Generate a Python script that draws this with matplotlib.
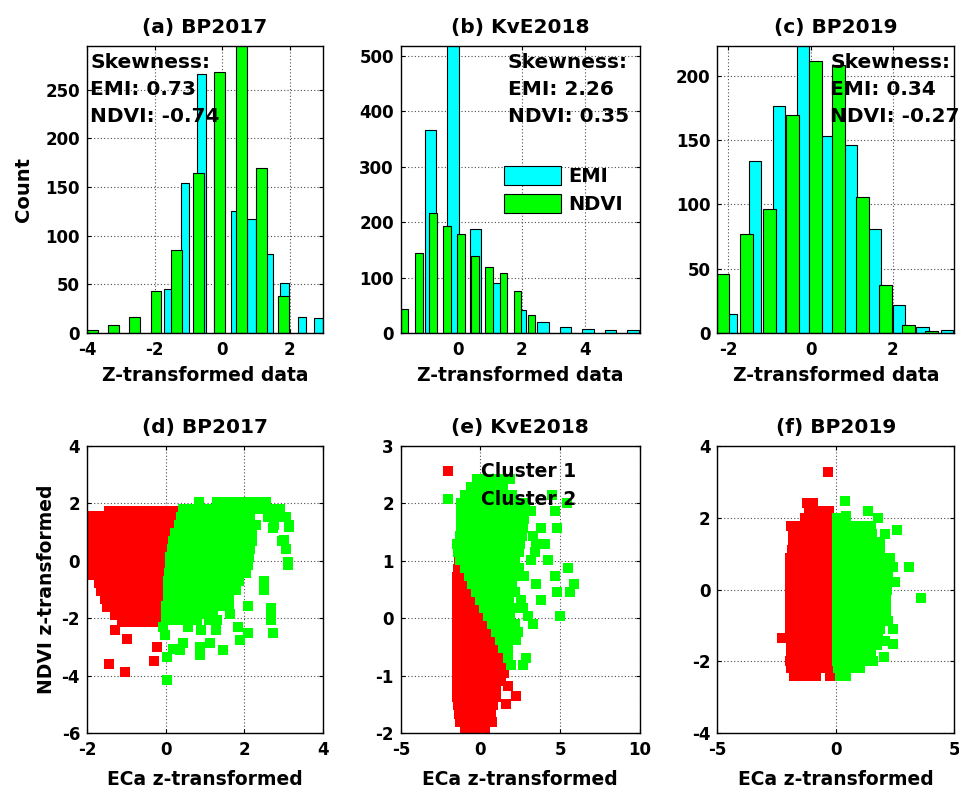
import numpy as np
import matplotlib
matplotlib.use("Agg")
from matplotlib import pyplot as plt
from matplotlib.patches import Patch
from matplotlib.lines import Line2D

plt.rcParams['font.family'] = ['DejaVu Sans']
plt.rcParams['font.weight'] = 'bold'
plt.rcParams['axes.titleweight'] = 'bold'
plt.rcParams['axes.labelweight'] = 'bold'
plt.rcParams['axes.unicode_minus'] = False

# ---- histogram data (bar centres and counts) ----
titles_top = ["(a) BP2017", "(b) KvE2018", "(c) BP2019"]
skew_emi = ["0.73", "2.26", "0.34"]
skew_ndvi = ["-0.74", "0.35", "-0.27"]

emi_a_x = [-1.61, -1.10, -0.61, -0.12, 0.38, 0.87, 1.39, 1.84, 2.36, 2.85]
emi_a_n = [45, 154, 266, 217, 125, 117, 81, 51, 16, 15]
ndvi_a_x = [-3.83, -3.22, -2.60, -1.96, -1.34, -0.69, -0.07, 0.56, 1.16, 1.81]
ndvi_a_n = [3.4, 8.6, 16, 43, 85, 164, 268, 310, 170, 38]

emi_b_x = [-0.87, -0.16, 0.55, 1.25, 1.97, 2.68, 3.39, 4.10, 4.81, 5.53]
emi_b_n = [367, 540, 187, 90, 42, 19, 11, 8, 6, 5]
ndvi_b_x = [-1.69, -1.24, -0.80, -0.36, 0.08, 0.54, 0.98, 1.43, 1.87, 2.32]
ndvi_b_n = [44, 145, 216, 194, 179, 139, 120, 109, 75, 32]

emi_c_x = [-1.93, -1.35, -0.77, -0.19, 0.39, 0.97, 1.56, 2.15, 2.73, 3.33]
emi_c_n = [15, 134, 176, 226, 153, 146, 81, 22, 5, 2]
ndvi_c_x = [-2.13, -1.56, -1.00, -0.44, 0.13, 0.69, 1.26, 1.82, 2.39, 2.95]
ndvi_c_n = [46, 77, 96, 169, 211, 208, 106, 37, 6.5, 1.3]

emi_width = [0.245, 0.37, 0.30]
ndvi_width = [0.32, 0.24, 0.31]
hist_xlim = [(-4.0, 2.98), (-1.81, 5.73), (-2.27, 3.5)]
hist_ylim = [295, 518, 223]
hist_xticks = [[-4, -2, 0, 2], [0, 2, 4], [-2, 0, 2]]
hist_yticks = [range(0, 251, 50), range(0, 501, 100), range(0, 201, 50)]

# ---- scatter data: rows of (NDVI z, list of ECa z) read from the clouds ----
titles_bot = ["(d) BP2017", "(e) KvE2018", "(f) BP2019"]

d_red_rows = [
    (1.75, [-1.45, -1.25, -1.05, -0.85, -0.65, -0.45, -0.25, -0.05, 0.15, 0.35]),
    (1.55, [-1.85, -1.65]),
    (1.47, [-1.85, -1.65, -1.45, -1.25, -1.05, -0.85, -0.65, -0.45, -0.25, -0.05, 0.15, 0.32]),
    (1.19, [-1.9, -1.7, -1.5, -1.3, -1.1, -0.9, -0.7, -0.5, -0.3, -0.1, 0.1, 0.26]),
    (0.91, [-1.95, -1.75, -1.55, -1.35, -1.15, -0.95, -0.75, -0.55, -0.35, -0.15, 0.05, 0.2]),
    (0.63, [-2.0, -1.8, -1.6, -1.4, -1.2, -1.0, -0.8, -0.6, -0.4, -0.2, 0.0, 0.14]),
    (0.35, [-1.95, -1.75, -1.55, -1.35, -1.15, -0.95, -0.75, -0.55, -0.35, -0.15, 0.08]),
    (0.07, [-1.9, -1.7, -1.5, -1.3, -1.1, -0.9, -0.7, -0.5, -0.3, -0.1, 0.03]),
    (-0.21, [-1.95, -1.75, -1.55, -1.35, -1.15, -0.95, -0.75, -0.55, -0.35, -0.15, 0.0]),
    (-0.49, [-1.9, -1.7, -1.5, -1.3, -1.1, -0.9, -0.7, -0.5, -0.3, -0.1]),
    (-0.77, [-1.7, -1.5, -1.3, -1.1, -0.9, -0.7, -0.5, -0.3, -0.08]),
    (-1.05, [-1.65, -1.45, -1.25, -1.05, -0.85, -0.65, -0.45, -0.25, -0.07]),
    (-1.33, [-1.55, -1.35, -1.15, -0.95, -0.75, -0.55, -0.35, -0.15]),
    (-1.61, [-1.5, -1.3, -1.1, -0.9, -0.7, -0.5, -0.3, -0.12]),
    (-1.89, [-1.3, -1.1, -0.9, -0.7, -0.5, -0.3, -0.12]),
    (-2.13, [-1.1, -0.9, -0.7, -0.5, -0.3, -0.15]),
]
d_red_out_x = [-1.28, -0.99, -0.23, -0.30, -1.45, -1.03]
d_red_out_y = [-2.42, -2.71, -3.0, -3.49, -3.58, -3.87]

d_green_rows = [
    (2.05, [0.85, 1.3, 1.5, 1.7, 1.9, 2.1, 2.3, 2.55]),
    (1.8, [0.45, 0.65, 0.85, 1.05, 1.25, 1.45, 1.65, 1.85, 2.05, 2.25, 2.45, 2.65, 2.9]),
    (1.52, [0.4, 0.6, 0.8, 1.0, 1.2, 1.4, 1.6, 1.8, 2.0, 2.15, 2.6, 2.85, 3.05]),
    (1.24, [0.33, 0.53, 0.73, 0.93, 1.13, 1.33, 1.53, 1.73, 1.93, 2.1, 2.3, 2.75, 3.15]),
    (0.96, [0.25, 0.45, 0.65, 0.85, 1.05, 1.25, 1.45, 1.65, 1.85, 2.05, 2.2]),
    (0.68, [0.2, 0.4, 0.6, 0.8, 1.0, 1.2, 1.4, 1.6, 1.8, 2.0, 2.2, 2.95]),
    (0.40, [0.15, 0.35, 0.55, 0.75, 0.95, 1.15, 1.35, 1.55, 1.75, 1.95, 2.15, 3.05]),
    (0.12, [0.12, 0.32, 0.52, 0.72, 0.92, 1.12, 1.32, 1.52, 1.72, 1.92, 2.12]),
    (-0.16, [0.1, 0.3, 0.5, 0.7, 0.9, 1.1, 1.3, 1.5, 1.7, 1.9, 2.1, 3.1]),
    (-0.44, [0.08, 0.28, 0.48, 0.68, 0.88, 1.08, 1.28, 1.48, 1.68, 1.88, 2.05]),
    (-0.72, [0.06, 0.26, 0.46, 0.66, 0.86, 1.06, 1.26, 1.46, 1.66, 1.86, 2.5]),
    (-1.0, [0.05, 0.25, 0.45, 0.65, 0.85, 1.05, 1.25, 1.45, 1.65, 1.8, 2.5]),
    (-1.28, [0.05, 0.25, 0.45, 0.65, 0.85, 1.05, 1.25, 1.45, 1.6]),
    (-1.56, [0.0, 0.2, 0.4, 0.6, 0.8, 1.0, 1.2, 1.4, 1.6, 2.09]),
    (-1.84, [0.0, 0.2, 0.4, 0.6, 0.8, 1.0, 1.2, 1.63, 2.68]),
    (-2.05, [0.0, 0.2, 0.4, 0.6, 0.8, 1.1, 1.3, 2.68]),
]
d_green_out_x = [0.57, 0.91, -0.02, -0.06, 1.84, 2.09, 1.88, 1.29, 1.46, 1.12, 0.87, 0.87,
                 0.45, 0.19, 0.03, 0.03, 0.36, 2.73, 2.68, 3.1, 3.02, 2.73, 3.15]
d_green_out_y = [-2.3, -2.42, -2.59, -2.3, -2.3, -2.53, -2.77, -2.42, -3.12, -2.88, -3.0, -3.29,
                 -2.88, -3.06, -3.35, -4.16, -3.12, -2.53, -1.66, -0.03, 0.72, 1.13, 1.19]

e_red_rows = [
    (1.0, [-1.35, -1.15]),
    (0.86, [-1.4, -1.0]),
    (0.72, [-1.45, -1.05, -0.75]),
    (0.58, [-1.45, -1.0, -0.5]),
    (0.44, [-1.45, -0.95, -0.45, -0.25]),
    (0.30, [-1.45, -0.95, -0.45, 0.0]),
    (0.16, [-1.45, -0.95, -0.45, 0.05, 0.25]),
    (0.02, [-1.45, -0.95, -0.45, 0.05, 0.5]),
    (-0.12, [-1.45, -0.95, -0.45, 0.05, 0.55, 0.75]),
    (-0.26, [-1.45, -0.95, -0.45, 0.05, 0.55, 0.98]),
    (-0.40, [-1.45, -0.95, -0.45, 0.05, 0.55, 1.05, 1.22]),
    (-0.54, [-1.45, -0.95, -0.45, 0.05, 0.55, 1.05, 1.45]),
    (-0.68, [-1.45, -0.95, -0.45, 0.05, 0.55, 1.05, 1.5]),
    (-0.82, [-1.45, -0.95, -0.45, 0.05, 0.55, 1.05, 1.5]),
    (-0.96, [-1.5, -1.0, -0.5, 0.0, 0.5, 1.0, 1.45]),
    (-1.10, [-1.5, -1.0, -0.5, 0.0, 0.5, 1.0, 1.3]),
    (-1.24, [-1.45, -0.95, -0.45, 0.05, 0.55, 1.0]),
    (-1.38, [-1.45, -0.95, -0.45, 0.05, 0.55, 0.95]),
    (-1.52, [-1.4, -0.9, -0.4, 0.1, 0.6, 0.8]),
    (-1.66, [-1.35, -0.85, -0.35, 0.15, 0.65]),
    (-1.80, [-1.3, -0.8, -0.3, 0.2, 0.7]),
    (-1.94, [-1.0, -0.5, -0.1, 0.3]),
]
e_red_out_x = [1.72, 2.25, 1.6, -0.5]
e_red_out_y = [-1.18, -1.36, -1.5, -1.99]

e_green_rows = [
    (2.42, [-0.2, 0.3, 0.8, 1.3, 1.86]),
    (2.28, [-0.6, -0.1, 0.4, 0.9, 1.4]),
    (2.14, [-1.0, -0.5, 0.0, 0.5, 1.0, 1.5, 2.0, 4.47]),
    (2.0, [-1.2, -0.7, -0.2, 0.3, 0.8, 1.3, 1.8, 2.3, 2.8, 5.42]),
    (1.86, [-1.25, -0.75, -0.25, 0.25, 0.75, 1.25, 1.75, 2.25, 2.75, 3.2, 4.68]),
    (1.72, [-1.25, -0.75, -0.25, 0.25, 0.75, 1.25, 1.75, 2.25, 2.75]),
    (1.58, [-1.25, -0.75, -0.25, 0.25, 0.75, 1.25, 1.75, 2.25, 2.7, 3.83, 4.79]),
    (1.44, [-1.3, -0.8, -0.3, 0.2, 0.7, 1.2, 1.7, 2.2, 2.6, 3.3]),
    (1.30, [-1.45, -0.95, -0.45, 0.05, 0.55, 1.05, 1.55, 2.05, 2.5, 3.5, 4.05]),
    (1.16, [-1.4, -0.9, -0.4, 0.1, 0.6, 1.1, 1.6, 2.1, 2.45, 3.41]),
    (1.02, [-1.3, -0.8, -0.3, 0.2, 0.7, 1.2, 1.7, 2.2, 3.2, 4.26]),
    (0.88, [-1.0, -0.5, 0.0, 0.5, 1.0, 1.5, 2.0, 2.4, 5.53]),
    (0.74, [-0.75, -0.25, 0.25, 0.75, 1.25, 1.75, 2.2, 2.75, 4.68]),
    (0.60, [-0.5, 0.0, 0.5, 1.0, 1.5, 2.0, 3.5, 5.85]),
    (0.46, [-0.25, 0.25, 0.75, 1.25, 1.75, 2.2, 4.79, 5.6]),
    (0.32, [0.0, 0.45, 0.9, 1.35, 1.8, 2.56, 3.83]),
    (0.18, [0.25, 0.7, 1.15, 1.6, 2.05, 2.67]),
    (0.04, [0.5, 0.95, 1.4, 1.85, 3.0, 5.0]),
    (-0.10, [0.75, 1.2, 1.65, 2.14, 3.3]),
    (-0.24, [1.0, 1.4, 1.75, 2.35]),
    (-0.38, [1.2, 1.6, 2.25]),
    (-0.52, [1.4, 1.72]),
    (-0.70, [1.72, 2.88]),
    (-0.82, [1.93, 2.67]),
]

f_red_rows = [
    (2.42, [-1.2, -0.95]),
    (2.2, [-1.15, -0.85, -0.55, -0.3]),
    (1.98, [-1.3, -1.0, -0.7, -0.4, -0.2]),
    (1.76, [-1.9, -1.6, -1.3, -1.0, -0.7, -0.4, -0.15]),
    (1.54, [-1.8, -1.5, -1.2, -0.9, -0.6, -0.3, -0.12]),
    (1.32, [-1.8, -1.5, -1.2, -0.9, -0.6, -0.3, -0.12]),
    (1.10, [-1.85, -1.55, -1.25, -0.95, -0.65, -0.35, -0.12]),
    (0.88, [-1.95, -1.63, -1.31, -0.99, -0.67, -0.35, -0.12]),
    (0.66, [-1.95, -1.63, -1.31, -0.99, -0.67, -0.35, -0.12]),
    (0.44, [-1.95, -1.63, -1.31, -0.99, -0.67, -0.35, -0.12]),
    (0.22, [-1.95, -1.63, -1.31, -0.99, -0.67, -0.35, -0.12]),
    (0.0, [-1.95, -1.63, -1.31, -0.99, -0.67, -0.35, -0.12]),
    (-0.22, [-1.95, -1.63, -1.31, -0.99, -0.67, -0.35, -0.12]),
    (-0.44, [-1.95, -1.63, -1.31, -0.99, -0.67, -0.35, -0.12]),
    (-0.66, [-1.95, -1.63, -1.31, -0.99, -0.67, -0.35, -0.12]),
    (-0.88, [-1.95, -1.63, -1.31, -0.99, -0.67, -0.35, -0.12]),
    (-1.10, [-1.95, -1.63, -1.31, -0.99, -0.67, -0.35, -0.12]),
    (-1.32, [-1.9, -1.6, -1.3, -0.99, -0.67, -0.35, -0.12]),
    (-1.54, [-1.87, -1.55, -1.25, -0.95, -0.67, -0.35, -0.12]),
    (-1.76, [-1.87, -1.55, -1.25, -0.95, -0.67, -0.35, -0.12]),
    (-1.98, [-1.95, -1.63, -1.31, -0.99, -0.67, -0.35, -0.12]),
    (-2.2, [-1.9, -1.6, -1.3, -1.0, -0.7, -0.3, -0.15]),
    (-2.4, [-1.75, -1.45, -1.15, -0.85, -0.25]),
]
f_red_out_x = [-0.32, -2.29]
f_red_out_y = [3.27, -1.35]

f_green_rows = [
    (1.98, [0.05, 0.35, 1.78]),
    (1.76, [0.05, 0.35, 0.65, 0.95, 1.25, 1.5]),
    (1.54, [0.05, 0.35, 0.65, 0.95, 1.25, 1.55, 2.06]),
    (1.32, [0.05, 0.35, 0.65, 0.95, 1.25, 1.55, 1.85]),
    (1.10, [0.05, 0.35, 0.65, 0.95, 1.25, 1.55, 1.85]),
    (0.88, [0.05, 0.35, 0.65, 0.95, 1.25, 1.55, 1.85, 2.27]),
    (0.66, [0.05, 0.35, 0.65, 0.95, 1.25, 1.55, 1.85, 2.2]),
    (0.44, [0.05, 0.35, 0.65, 0.95, 1.25, 1.55, 1.85, 2.2]),
    (0.22, [0.05, 0.35, 0.65, 0.95, 1.25, 1.55, 1.85, 2.2, 2.48]),
    (0.0, [0.05, 0.35, 0.65, 0.95, 1.25, 1.55, 1.85, 2.15]),
    (-0.22, [0.05, 0.35, 0.65, 0.95, 1.25, 1.55, 1.85, 2.1]),
    (-0.44, [0.05, 0.35, 0.65, 0.95, 1.25, 1.55, 1.85, 2.1]),
    (-0.66, [0.05, 0.35, 0.65, 0.95, 1.25, 1.55, 1.85, 2.1]),
    (-0.88, [0.05, 0.35, 0.65, 0.95, 1.25, 1.55, 1.85, 2.2]),
    (-1.10, [0.05, 0.35, 0.65, 0.95, 1.25, 1.55, 1.85, 2.41]),
    (-1.32, [0.05, 0.35, 0.65, 0.95, 1.25, 1.55, 1.8]),
    (-1.54, [0.05, 0.35, 0.65, 0.95, 1.25, 1.55, 1.75]),
    (-1.76, [0.05, 0.35, 0.65, 0.95, 1.25, 1.5]),
    (-1.98, [0.05, 0.35, 0.65, 0.95, 1.25, 1.57]),
    (-2.2, [0.1, 0.4, 0.7, 1.01]),
    (-2.42, [0.17, 0.45]),
]
f_green_out_x = [0.41, 0.45, 1.36, 2.58, 3.11, 2.41, 3.6, 2.41, 2.06, 2.02]
f_green_out_y = [2.47, 2.05, 2.2, 1.66, 0.63, 0.63, -0.25, -1.53, -1.44, -1.88]

scat_xlim = [(-2, 4), (-5, 10), (-5, 5)]
scat_ylim = [(-6, 4), (-2, 3), (-4, 4)]
scat_xticks = [[-2, 0, 2, 4], [-5, 0, 5, 10], [-5, 0, 5]]
scat_yticks = [range(-6, 5, 2), range(-2, 4), range(-4, 5, 2)]


def expand(rows, out_x=(), out_y=()):
    xs, ys = [], []
    for y, row in rows:
        xs += row
        ys += [y] * len(row)
    return np.array(xs + list(out_x)), np.array(ys + list(out_y))


def style_axes(ax):
    ax.grid(True, color='0.3', linestyle=(0, (1, 2)), linewidth=0.8)
    ax.set_axisbelow(True)
    ax.tick_params(direction='in', length=3, top=True, right=True, labelsize=12, pad=5)
    ax.tick_params(axis='x', pad=6)
    for s in ax.spines.values():
        s.set_linewidth(1.0)


fig = plt.figure(figsize=(9.59, 7.94), dpi=100)
lefts = [0.0907, 0.418, 0.748]
widths = [0.246, 0.249, 0.247]

emi_x = [emi_a_x, emi_b_x, emi_c_x]
emi_n = [emi_a_n, emi_b_n, emi_c_n]
ndvi_x = [ndvi_a_x, ndvi_b_x, ndvi_c_x]
ndvi_n = [ndvi_a_n, ndvi_b_n, ndvi_c_n]
skew_x = [0.013, 0.448, 0.477]

for i in range(3):
    ax = fig.add_axes([lefts[i], 0.5806, widths[i], 0.3615])
    ax.bar(emi_x[i], emi_n[i], width=emi_width[i], color='#00ffff', edgecolor='k', linewidth=0.8)
    ax.bar(ndvi_x[i], ndvi_n[i], width=ndvi_width[i], color='#00ff00', edgecolor='k', linewidth=0.8)
    ax.set_xlim(hist_xlim[i])
    ax.set_ylim(0, hist_ylim[i])
    ax.set_xticks(hist_xticks[i])
    ax.set_yticks(list(hist_yticks[i]))
    style_axes(ax)
    ax.set_title(titles_top[i], fontsize=14.5, pad=9)
    ax.set_xlabel("Z-transformed data", fontsize=13.5, labelpad=5)
    if i == 0:
        ax.set_ylabel("Count", fontsize=14, labelpad=9)
    lines = ["Skewness:", "EMI: " + skew_emi[i], "NDVI: " + skew_ndvi[i]]
    for k, t in enumerate(lines):
        ax.text(skew_x[i], [0.944, 0.847, 0.753][k], t, transform=ax.transAxes,
                fontsize=14.5, va='center', ha='left')
    if i == 1:
        handles = [Patch(facecolor='#00ffff', edgecolor='k', linewidth=0.8),
                   Patch(facecolor='#00ff00', edgecolor='k', linewidth=0.8)]
        ax.legend(handles, ["EMI", "NDVI"], loc='upper left', bbox_to_anchor=(0.431, 0.582),
                  frameon=False, fontsize=14, handlelength=2.93, handleheight=1.13,
                  labelspacing=0.41, handletextpad=0.36, borderpad=0, borderaxespad=0)

red_sets = [expand(d_red_rows, d_red_out_x, d_red_out_y),
            expand(e_red_rows, e_red_out_x, e_red_out_y),
            expand(f_red_rows, f_red_out_x, f_red_out_y)]
green_sets = [expand(d_green_rows, d_green_out_x, d_green_out_y),
              expand(e_green_rows),
              expand(f_green_rows, f_green_out_x, f_green_out_y)]

for i in range(3):
    ax = fig.add_axes([lefts[i], 0.0768, widths[i], 0.3615])
    rx, ry = red_sets[i]
    gx, gy = green_sets[i]
    ax.plot(rx, ry, 's', color='#ff0000', markersize=6.6, markeredgewidth=0, label='Cluster 1')
    ax.plot(gx, gy, 's', color='#00ff00', markersize=6.6, markeredgewidth=0, label='Cluster 2')
    ax.set_xlim(scat_xlim[i])
    ax.set_ylim(scat_ylim[i])
    ax.set_xticks(scat_xticks[i])
    ax.set_yticks(list(scat_yticks[i]))
    style_axes(ax)
    ax.set_title(titles_bot[i], fontsize=14.5, pad=9)
    ax.set_xlabel("ECa z-transformed", fontsize=13.5, labelpad=8)
    if i == 0:
        ax.set_ylabel("NDVI z-transformed", fontsize=13.5, labelpad=4)
    if i == 1:
        handles = [Line2D([], [], marker='s', linestyle='none', color='#ff0000', markersize=7, markeredgewidth=0),
                   Line2D([], [], marker='s', linestyle='none', color='#00ff00', markersize=7, markeredgewidth=0)]
        ax.legend(handles, ["Cluster 1", "Cluster 2"], loc='upper left', bbox_to_anchor=(0.14, 0.944),
                  frameon=False, fontsize=13.5, handlelength=1.5, labelspacing=0.5,
                  handletextpad=1.0, borderpad=0, borderaxespad=0)

fig.savefig("out.png", dpi=100)
